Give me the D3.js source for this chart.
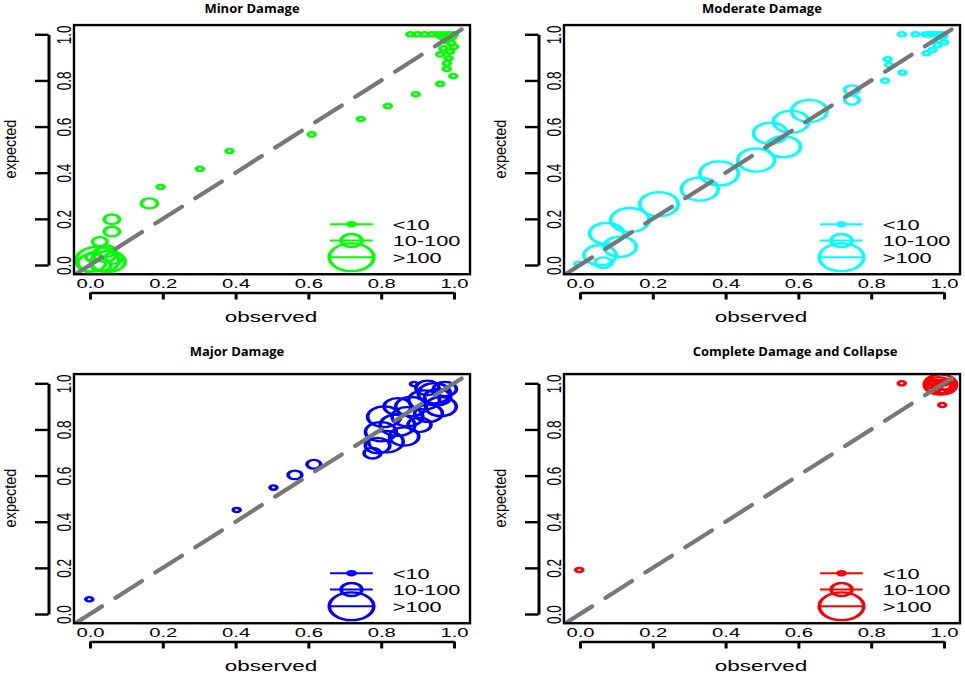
<!DOCTYPE html>
<html><head><meta charset="utf-8">
<script src="https://cdn.jsdelivr.net/npm/d3@7"></script>
<style>body{margin:0;background:#fff}svg{display:block}</style>
</head><body><svg id="c" width="965" height="674"></svg>
<script>
// ---------- data ----------
const xTicks = [0, 0.2, 0.4, 0.6, 0.8, 1.0];
const yTicks = [0, 0.2, 0.4, 0.6, 0.8, 1.0];
const legendLabels = ["<10", "10-100", ">100"];
const legendCex = [0.9, 2.7, 5.8];
const panelTitles = ["Minor Damage", "Moderate Damage", "Major Damage", "Complete Damage and Collapse"];
const panelColors = ["#00ff00", "#00ffff", "#0000ff", "#ff0000"];
const refLine = [-0.04, 1.04];

const minorObs = [0.02,0.05,0.005,0.04,0.03,0.065,0.01,0.045,0.027,0.06,0.06,0.163,0.194,0.302,0.383,0.609,0.744,0.818,0.895,0.962,0.998,0.98,0.98,0.985,0.962,0.989,0.971,1.0,0.993,0.975,0.99,0.88,0.90,0.92,0.94,0.955,0.97,0.985,1.0,0.995,0.965];
const minorExp = [0.02,0.015,0.01,0.045,0.0,0.03,0.035,0.06,0.101,0.145,0.198,0.267,0.339,0.417,0.494,0.566,0.633,0.689,0.740,0.785,0.819,0.85,0.874,0.896,0.913,0.925,0.939,0.946,0.961,0.972,0.982,1.0,1.0,1.0,1.0,1.0,1.0,1.0,1.0,0.99,0.99];
const minorCex = [5.6,4.4,3.6,3.0,2.6,2.3,2.0,2.4,1.9,2.0,2.0,2.1,0.9,0.9,0.9,0.9,0.9,0.9,0.9,0.9,0.9,0.9,0.9,0.9,0.9,0.9,0.9,0.9,0.9,0.9,0.9,0.9,0.9,0.9,0.9,0.9,0.9,0.9,0.9,0.9,0.9];

const moderateObs = [0.630,0.580,0.523,0.559,0.484,0.382,0.329,0.217,0.137,0.073,0.110,0.055,0.064,-0.005,0.747,0.747,0.838,0.886,0.849,0.845,0.884,0.922,0.95,0.962,0.974,0.986,0.998,0.952,0.968,0.982,0.986,0.997,1.0];
const moderateExp = [0.668,0.621,0.571,0.513,0.455,0.397,0.329,0.264,0.195,0.137,0.079,0.043,0.010,0.005,0.759,0.715,0.799,0.834,0.867,0.892,1.0,1.0,1.0,1.0,1.0,1.0,1.0,0.918,0.932,0.953,0.975,0.99,0.965];
const moderateCex = [4.6,4.6,4.4,4.4,4.8,5.0,4.8,5.0,5.0,4.4,4.2,4.2,2.2,0.9,1.9,1.9,0.9,0.9,0.9,0.9,0.9,0.9,0.9,0.9,0.9,0.9,0.9,0.9,0.9,0.9,0.9,0.9,0.9];

const majorObs = [-0.002,0.403,0.504,0.563,0.615,0.776,0.79,0.813,0.799,0.808,0.845,0.863,0.872,0.845,0.882,0.918,0.946,0.964,0.93,0.927,0.975,0.89,0.905,0.955];
const majorExp = [0.064,0.451,0.548,0.603,0.649,0.697,0.73,0.747,0.79,0.855,0.819,0.769,0.855,0.899,0.899,0.928,0.957,0.899,0.87,0.98,0.975,0.997,0.82,0.94];
const majorCex = [0.9,0.9,0.9,1.8,1.8,2.2,3.2,4.5,4.0,4.3,4.5,3.8,4.0,3.5,4.0,4.0,4.2,4.0,3.6,3.0,3.0,0.9,3.0,3.4];

const completeObs = [-0.002,0.884,0.995,0.99,1.0,0.985,0.995,0.975,1.0,0.97,0.995,1.0];
const completeExp = [0.191,1.0,0.906,0.995,0.985,0.99,0.98,0.995,0.99,1.0,0.965,1.0];
const completeCex = [0.9,0.9,0.9,4.2,3.0,3.5,2.5,2.0,1.8,0.9,0.9,0.9];

const panelObs = [minorObs, moderateObs, majorObs, completeObs];
const panelExp = [minorExp, moderateExp, majorExp, completeExp];
const panelCex = [minorCex, moderateCex, majorCex, completeCex];

// ---------- layout ----------
const panelOffsets = [[0,0],[490,0],[0,349],[490,349]];
const titleX = [252, 762, 237, 795];
const titleY = [12.5, 12.5, 355.5, 355.5];
const SX = 1.5;       // horizontal stretch of text
const CSX = 1.6;      // horizontal stretch of symbols
const svg = d3.select("#c");
const rScale = d3.scaleLinear().domain([0, 1]).range([0, 2.4]);
const fontA = "'Liberation Sans', Arial, sans-serif";

panelTitles.forEach((title, i) => {
  const [ox, oy] = panelOffsets[i];
  const col = panelColors[i];
  const x = d3.scaleLinear().domain([0, 1]).range([ox + 90, ox + 454]);
  const y = d3.scaleLinear().domain([0, 1]).range([oy + 265, oy + 34.3]);
  const bx0 = x(-0.044), bx1 = x(1.044), by0 = y(1.04), by1 = y(-0.04);

  const clipId = "clip" + i;
  svg.append("clipPath").attr("id", clipId).append("rect")
    .attr("x", bx0).attr("y", by0).attr("width", bx1 - bx0).attr("height", by1 - by0);

  const pts = panelObs[i].map((o, k) => ({o, e: panelExp[i][k], c: panelCex[i][k]}));
  const gp = svg.append("g").attr("clip-path", `url(#${clipId})`);
  gp.selectAll("g.pt").data(pts).enter().append("g").attr("class", "pt")
    .attr("transform", d => `translate(${x(d.o)},${y(d.e)}) scale(${CSX},1)`)
    .append("circle").attr("r", d => rScale(d.c))
    .attr("fill", "none").attr("stroke", col).attr("stroke-width", 2.3);

  // reference line y = x
  gp.append("path").datum(refLine)
    .attr("d", d3.line().x(v => x(v)).y(v => y(v)))
    .attr("stroke", "#777").attr("stroke-width", 4.2).attr("fill", "none")
    .attr("stroke-dasharray", "31.5,15.8").attr("stroke-linecap", "round");

  // box
  svg.append("rect").attr("x", bx0).attr("y", by0).attr("width", bx1 - bx0).attr("height", by1 - by0)
    .attr("fill", "none").attr("stroke", "#000").attr("stroke-width", 2.4);

  // x axis
  const gx = svg.append("g").attr("transform", `translate(0,${oy + 292.5})`)
    .call(d3.axisBottom(x).tickValues(xTicks).tickFormat(d3.format(".1f")).tickSizeInner(7).tickSizeOuter(0));
  gx.select(".domain").attr("stroke", "#000").attr("stroke-width", 2.4);
  gx.selectAll(".tick line").attr("stroke", "#000").attr("stroke-width", 3);
  gx.selectAll(".tick text").attr("y", -4.5).attr("dy", null)
    .attr("transform", `scale(${SX},1)`).attr("font-size", 13.5).attr("font-family", fontA).attr("fill", "#000");

  // y axis
  const gy = svg.append("g").attr("transform", `translate(${ox + 48.5},0)`)
    .call(d3.axisLeft(y).tickValues(yTicks).tickFormat(d3.format(".1f")).tickSizeInner(13.5).tickSizeOuter(0));
  gy.select(".domain").attr("stroke", "#000").attr("stroke-width", 3);
  gy.selectAll(".tick line").attr("stroke", "#000").attr("stroke-width", 2.4);
  gy.selectAll(".tick text").attr("x", 0).attr("dy", null).attr("text-anchor", "middle")
    .attr("transform", `translate(22,0) scale(${SX},1) rotate(-90)`)
    .attr("font-size", 13.5).attr("font-family", fontA).attr("fill", "#000");

  // axis titles
  svg.append("text").attr("transform", `translate(${ox + 271},${oy + 321.5}) scale(1.45,1)`)
    .attr("text-anchor", "middle").attr("font-size", 15.5).attr("font-family", fontA).text("observed");
  svg.append("text").attr("transform", `translate(${ox + 16},${oy + 149}) scale(1.15,1) rotate(-90)`)
    .attr("text-anchor", "middle").attr("font-size", 14.5).attr("font-family", fontA).text("expected");

  // title
  svg.append("text").attr("x", titleX[i]).attr("y", titleY[i]).attr("text-anchor", "middle")
    .attr("font-family", "'Open Sans', sans-serif").attr("font-weight", 700).attr("font-size", 13)
    .text(title);

  // legend
  const rows = [224.2, 240.5, 257.3];
  const lg = svg.append("g");
  legendLabels.forEach((lab, k) => {
    const ry = oy + rows[k];
    lg.append("line").attr("x1", ox + 330).attr("x2", ox + 372.7).attr("y1", ry).attr("y2", ry)
      .attr("stroke", col).attr("stroke-width", 2);
    lg.append("g").attr("transform", `translate(${ox + 351.5},${ry}) scale(${CSX},1)`)
      .append("circle").attr("r", rScale(legendCex[k])).attr("fill", "none")
      .attr("stroke", col).attr("stroke-width", 2.3);
    lg.append("text").attr("transform", `translate(${ox + 392.7},${ry + 5.5}) scale(${SX},1)`)
      .attr("font-size", 14.5).attr("font-family", fontA).text(lab);
  });
});
</script></body></html>
